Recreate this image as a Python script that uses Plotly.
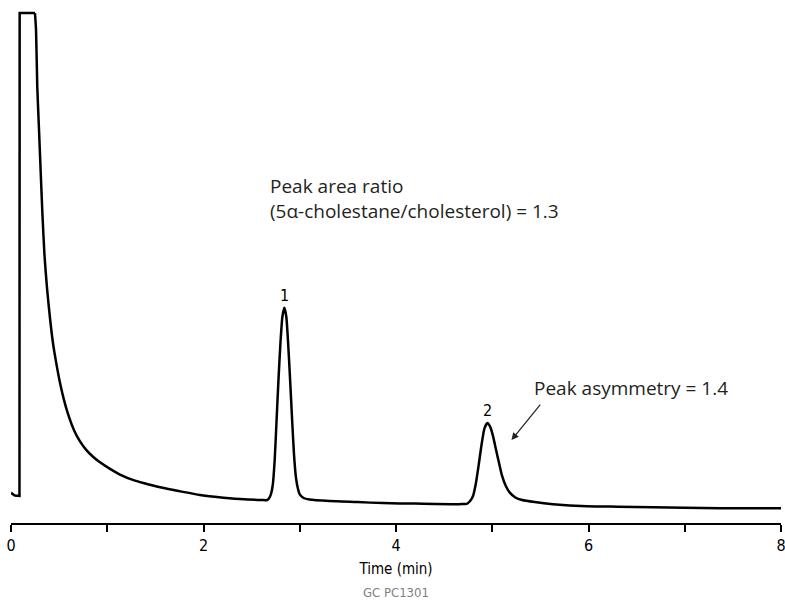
import plotly.graph_objects as go

# Chromatogram trace (time in min, signal in arbitrary units)
time_min = [
    0.00, 0.04, 0.088, 0.09, 0.249, 0.26, 0.273, 0.291, 0.309, 0.327, 0.348, 0.374,
    0.405, 0.436, 0.468, 0.509, 0.551, 0.592, 0.655, 0.717, 0.779, 0.852, 0.925,
    1.029, 1.132, 1.288, 1.444, 1.60, 1.787, 1.964, 2.14, 2.379, 2.608,
    2.66, 2.68, 2.70, 2.72, 2.74, 2.76, 2.78, 2.80, 2.82, 2.84, 2.86, 2.88, 2.90, 2.92,
    2.94, 2.96, 2.98, 3.00, 3.04, 3.10, 3.31, 3.60, 3.865, 4.20, 4.665,
    4.74, 4.77, 4.80, 4.83, 4.86, 4.89, 4.92, 4.95, 4.98, 5.01, 5.04, 5.07, 5.10, 5.14,
    5.18, 5.24, 5.31, 5.44, 5.631, 5.984, 6.30, 6.67, 7.00, 7.366, 7.70, 8.00,
]
signal = [
    5.9, 5.4, 5.3, 100.0, 100.0, 96.7, 85.5, 77.1, 68.6, 60.4, 52.5, 46.1,
    40.2, 35.3, 31.6, 27.5, 24.1, 21.4, 18.2, 16.0, 14.4, 13.0, 11.9,
    10.6, 9.5, 8.3, 7.5, 6.8, 6.1, 5.5, 5.1, 4.7, 4.5,
    4.5, 4.8, 5.6, 7.5, 12.5, 20.5, 28.5, 35.5, 40.5, 42.2, 40.5, 35.0, 28.0, 20.5,
    13.5, 9.0, 6.8, 5.6, 4.9, 4.6, 4.3, 4.1, 3.9, 3.8, 3.7,
    3.8, 4.3, 5.3, 7.8, 11.5, 15.5, 18.6, 19.6, 18.8, 16.9, 14.3, 11.8, 9.4, 7.3,
    6.0, 5.0, 4.5, 4.1, 3.7, 3.3, 3.2, 3.1, 3.0, 2.9, 2.9, 2.9,
]
# index where the clipped solvent plateau ends and the smooth decay begins
plateau_end = 4

# Axis ticks
tick_vals = [0, 1, 2, 3, 4, 5, 6, 7, 8]
tick_text = ["0", "", "2", "", "4", "", "6", "", "8"]

# Peak labels
peak_times = [2.84, 4.95]
peak_names = ["1", "2"]

x_title = "Time (min)"
footer = "GC PC1301"
ratio_line1 = "Peak area ratio"
ratio_line2 = "(5α-cholestane/cholesterol) = 1.3"
asym_text = "Peak asymmetry = 1.4"

TEXT_FONT = "Open Sans, Noto Sans, sans-serif"
AXIS_FONT = "Liberation Sans Narrow, DejaVu Sans Condensed, Roboto, sans-serif"
TEXT_COLOR = "#231f20"

fig = go.Figure()
fig.add_trace(go.Scatter(
    x=time_min[:plateau_end + 1], y=signal[:plateau_end + 1], mode="lines",
    line=dict(color="black", width=2.5),
    hoverinfo="skip", showlegend=False,
))
fig.add_trace(go.Scatter(
    x=time_min[plateau_end:], y=signal[plateau_end:], mode="lines",
    line=dict(color="black", width=2.5, shape="spline", smoothing=0.6),
    hoverinfo="skip", showlegend=False,
))

annotations = []
for t, name in zip(peak_times, peak_names):
    i = min(range(len(time_min)), key=lambda k: abs(time_min[k] - t))
    annotations.append(dict(
        x=time_min[i], y=signal[i], xref="x", yref="y", text=name,
        showarrow=False, yanchor="bottom", yshift=1,
        font=dict(family=AXIS_FONT, size=16, color="black"),
    ))

annotations += [
    dict(x=2.67, y=(523 - 186) / 5.1, xref="x", yref="y", text=ratio_line1,
         showarrow=False, xanchor="left", yanchor="middle",
         font=dict(family=TEXT_FONT, size=19, color=TEXT_COLOR)),
    dict(x=2.67, y=(523 - 211) / 5.1, xref="x", yref="y", text=ratio_line2,
         showarrow=False, xanchor="left", yanchor="middle",
         font=dict(family=TEXT_FONT, size=19, color=TEXT_COLOR)),
    dict(x=5.41, y=(523 - 388) / 5.1, xref="x", yref="y", text=asym_text,
         showarrow=False, xanchor="left", yanchor="middle",
         font=dict(family=TEXT_FONT, size=19, color=TEXT_COLOR)),
    dict(x=5.20, y=(523 - 440) / 5.1, xref="x", yref="y", text="",
         showarrow=True, arrowhead=2, arrowsize=1.2, arrowwidth=1.2,
         arrowcolor=TEXT_COLOR, ax=30, ay=-37, standoff=0),
    dict(x=0.5, y=(523 - 592) / 512, xref="paper", yref="paper", text=footer,
         showarrow=False, yanchor="middle",
         font=dict(family=AXIS_FONT, size=13, color="#808080")),
]

fig.update_layout(
    width=785, height=600,
    margin=dict(l=11, r=4, t=11, b=77, autoexpand=False),
    paper_bgcolor="white", plot_bgcolor="white",
    annotations=annotations,
    xaxis=dict(
        range=[0, 8], tickvals=tick_vals, ticktext=tick_text,
        showline=True, linecolor="black", linewidth=1.5,
        ticks="outside", ticklen=7, tickwidth=1.5, tickcolor="black",
        showgrid=False, zeroline=False, ticklabeloverflow="allow",
        automargin=False,
        tickfont=dict(family=AXIS_FONT, size=16, color="black"),
        title=dict(text=x_title, standoff=10,
                   font=dict(family=AXIS_FONT, size=15, color="black")),
    ),
    yaxis=dict(range=[0, 100.4], visible=False, showgrid=False, zeroline=False),
)

fig.write_html("out.html")
